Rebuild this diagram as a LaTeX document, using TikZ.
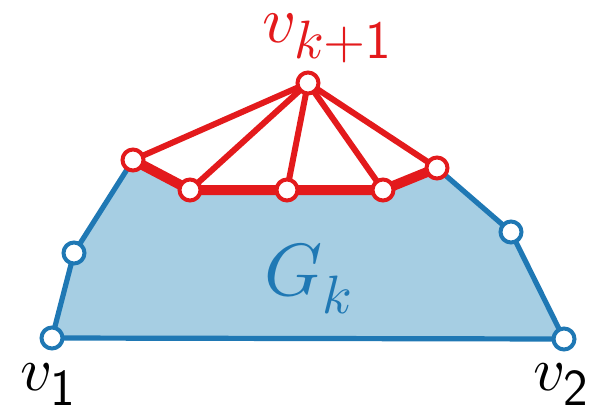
\documentclass[tikz,border=0pt]{standalone}
\usepackage{unicode-math}
\setmathfont{Latin Modern Math}
\DeclareMathSizes{31}{31}{26}{20}
\DeclareMathSizes{33}{33}{27}{21}
\DeclareMathSizes{37}{37}{27}{22}
\definecolor{gblue}{HTML}{1F78B4}
\definecolor{gfill}{HTML}{A6CEE3}
\definecolor{gred}{HTML}{E31A1C}
\tikzset{
  vtx/.style={circle, draw, fill=white, line width=2pt, minimum size=10.5pt, inner sep=0pt},
  bvtx/.style={vtx, draw=gblue},
  rvtx/.style={vtx, draw=gred},
  bedge/.style={draw=gblue, line width=2.6pt},
  redge/.style={draw=gred, line width=3pt},
  thickredge/.style={draw=gred, line width=5pt},
  lbl/.style={font=\fontsize{31}{36}\selectfont, inner sep=0pt, anchor=base west}
}
\begin{document}
\begin{tikzpicture}[x=0.5pt, y=-0.5pt]
\useasboundingbox (0,0) rectangle (599,412);
\coordinate (v1) at (52,338);
\coordinate (a) at (74,253);
\coordinate (r1) at (133,160);
\coordinate (r2) at (190,190);
\coordinate (r3) at (287,190);
\coordinate (r4) at (383,190);
\coordinate (r5) at (437,168);
\coordinate (b) at (511,232);
\coordinate (v2) at (564,339);
\coordinate (t) at (308,83);
\fill[gfill] (v1) -- (a) -- (r1) -- (r2) -- (r3) -- (r4) -- (r5) -- (b) -- (v2) -- cycle;
\draw[bedge, line join=round] (r5) -- (b) -- (v2) -- (v1) -- (a) -- (r1);
\draw[thickredge, line join=round] (r1) -- (r2) -- (r3) -- (r4) -- (r5);
\foreach \r in {r1,r2,r3,r4,r5} \draw[redge] (t) -- (\r);
\node[bvtx] (nv1) at (v1) {};
\node[bvtx] (na) at (a) {};
\node[bvtx] (nb) at (b) {};
\node[bvtx] (nv2) at (v2) {};
\foreach \r in {r1,r2,r3,r4,r5} \node[rvtx] (n\r) at (\r) {};
\node[rvtx] (nt) at (t) {};
\node[lbl] (l1) at (20,390) {$v_{\mathsf{1}}$};
\node[lbl] (l2) at (533,390) {$v_{\mathsf{2}}$};
\node[lbl, text=gred, font=\fontsize{33}{38}\selectfont] (lt) at (262,42) {$v_{k+\mathsf{1}}$};
\node[lbl, text=gblue, font=\fontsize{37}{42}\selectfont] (lg) at (264,295) {$G_k$};
\end{tikzpicture}
\end{document}
